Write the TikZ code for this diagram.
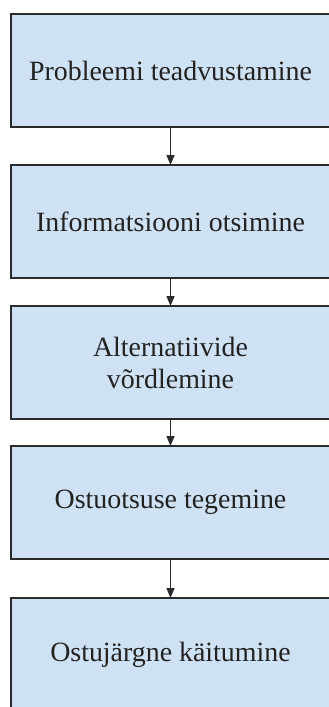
\documentclass[tikz,border=0pt]{standalone}
\usepackage{fontspec}
\setmainfont{Liberation Serif}
\usetikzlibrary{arrows.meta}
\definecolor{boxfill}{HTML}{CFE2F3}
\definecolor{boxline}{HTML}{2B2B2B}
\definecolor{txt}{HTML}{222222}
\begin{document}
\begin{tikzpicture}[x=1pt,y=-1pt,
  stagebox/.style={draw=boxline, line width=1.4pt, fill=boxfill, text=txt,
    minimum width=319pt, minimum height=113pt, inner sep=0pt, outer sep=0pt,
    align=center, font=\fontsize{27.9}{32}\selectfont},
  flow/.style={draw=boxline, line width=1.4pt, -{Triangle[width=8pt,length=10pt]}}]
\useasboundingbox (0,0) rectangle (329,707);
\clip (0,0) rectangle (329,707);
\node[stagebox] (b1) at (170.5,70.5) {Probleemi teadvustamine};
\node[stagebox] (b2) at (170.5,221.5) {Informatsiooni otsimine};
\node[stagebox] (b3) at (170.5,362.5) {Alternatiivide\\võrdlemine};
\node[stagebox] (b4) at (170.5,502.5) {Ostuotsuse tegemine};
\node[stagebox] (b5) at (170.5,654.5) {Ostujärgne käitumine};
\draw[flow] (b1) -- (b2);
\draw[flow] (b2) -- (b3);
\draw[flow] (b3) -- (b4);
\draw[flow] (b4) -- (b5);
\end{tikzpicture}
\end{document}
